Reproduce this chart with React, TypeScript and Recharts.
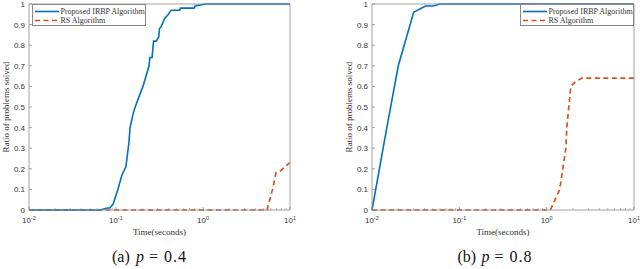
import React from 'react';
import { LineChart, Line, XAxis, YAxis } from 'recharts';

// ---- data (time in seconds, ratio solved) ----
const leftIrbpTime = [0.01, 0.066, 0.079, 0.085, 0.093, 0.105, 0.117, 0.13, 0.141, 0.145, 0.158, 0.166, 0.204, 0.24, 0.245, 0.26, 0.27, 0.29, 0.31, 0.316, 0.33, 0.363, 0.4, 0.43, 0.54, 0.55, 0.79, 0.81, 0.93, 1.07, 10];
const leftIrbpRatio = [0, 0, 0.01, 0.01, 0.03, 0.1, 0.17, 0.21, 0.33, 0.4, 0.47, 0.5, 0.6, 0.7, 0.74, 0.74, 0.82, 0.82, 0.84, 0.88, 0.89, 0.93, 0.95, 0.97, 0.97, 0.98, 0.98, 0.99, 0.995, 1, 1];
const leftRsTime = [0.01, 5.45, 6.3, 6.9, 7.8, 8.7, 10];
const leftRsRatio = [0, 0, 0.1, 0.18, 0.19, 0.21, 0.23];

const rightIrbpTime = [0.01, 0.0145, 0.02, 0.03, 0.041, 0.05, 0.06, 10];
const rightIrbpRatio = [0, 0.38, 0.7, 0.96, 0.99, 0.99, 1, 1];
const rightRsTime = [0.01, 1.1, 1.41, 1.66, 1.7, 1.89, 2.11, 2.51, 10];
const rightRsRatio = [0, 0, 0.1, 0.3, 0.4, 0.6, 0.62, 0.64, 0.64];

const xMajorTicks = [0.01, 0.1, 1, 10];
const xMinorTicks = [0.02, 0.03, 0.04, 0.05, 0.06, 0.07, 0.08, 0.09, 0.2, 0.3, 0.4, 0.5, 0.6, 0.7, 0.8, 0.9, 2, 3, 4, 5, 6, 7, 8, 9];
const yTicks = [0, 0.1, 0.2, 0.3, 0.4, 0.5, 0.6, 0.7, 0.8, 0.9, 1];

const seriesNames = ['Proposed IRBP Algorithm', 'RS Algorithm'];
const captions = [['(a)', 'p', '=', '0.4'], ['(b)', 'p', '=', '0.8']];

const BLUE = '#0072BD';
const ORANGE = '#D95319';
const AXIS = '#8a8a8a';
const TXT = '#333333';
const SERIF = '"Liberation Serif", "Times New Roman", serif';
const SANS = '"Liberation Sans", Arial, sans-serif';

const zip = (t: number[], v: number[]) => t.map((tt, i) => ({ t: tt, v: v[i] }));

const isMajor = (v: number) => Math.abs(Math.log10(v) - Math.round(Math.log10(v))) < 1e-6;

const XTickBottom = (props: any) => {
  const { x, y, payload } = props;
  const v = payload.value;
  const major = isMajor(v);
  const len = major ? 3 : 1.7;
  const e = Math.round(Math.log10(v));
  return (
    <g>
      <line x1={x} x2={x} y1={y} y2={y - len} stroke={AXIS} strokeWidth={0.8} />
      {major && (
        <text x={x} y={y + 13} textAnchor="middle" fontFamily={SANS} fontSize={8} fill={TXT}>
          <tspan>10</tspan>
          <tspan dy={-3.5} fontSize={5.5}>{String(e)}</tspan>
        </text>
      )}
    </g>
  );
};

const XTickTop = (props: any) => {
  const { x, y, payload } = props;
  const len = isMajor(payload.value) ? 3 : 1.7;
  return <line x1={x} x2={x} y1={y} y2={y + len} stroke={AXIS} strokeWidth={0.8} />;
};

const YTickLeft = (props: any) => {
  const { x, y, payload } = props;
  const label = String(Number(payload.value.toFixed(1)));
  return (
    <g>
      <line x1={x} x2={x + 3} y1={y} y2={y} stroke={AXIS} strokeWidth={0.8} />
      <text x={x - 4} y={y + 3} textAnchor="end" fontFamily={SANS} fontSize={8} fill={TXT}>
        {label}
      </text>
    </g>
  );
};

const YTickRight = (props: any) => {
  const { x, y } = props;
  return <line x1={x} x2={x - 3} y1={y} y2={y} stroke={AXIS} strokeWidth={0.8} />;
};

type PanelProps = {
  irbp: { t: number; v: number }[];
  rs: { t: number; v: number }[];
  plotLeft: number;
  plotRight: number;
  yLabelX: number;
  legendLeft: number;
  caption: string[];
  captionX: number;
};

const Legend2 = ({ left }: { left: number }) => (
  <div
    style={{
      position: 'absolute',
      left,
      top: 4,
      width: 114,
      height: 22,
      border: `0.8px solid ${AXIS}`,
      background: '#fff',
      boxSizing: 'border-box',
    }}
  >
    <svg width={114} height={22} style={{ position: 'absolute', left: 0, top: 0 }}>
      <line x1={2} x2={26} y1={6.5} y2={6.5} stroke={BLUE} strokeWidth={1.6} />
      <line x1={2} x2={26} y1={15.5} y2={15.5} stroke={ORANGE} strokeWidth={1.6} strokeDasharray="5 3.5" />
      <text x={27.5} y={9.3} fontFamily={SERIF} fontSize={8} fill={TXT}>{seriesNames[0]}</text>
      <text x={27.5} y={18.3} fontFamily={SERIF} fontSize={8} fill={TXT}>{seriesNames[1]}</text>
    </svg>
  </div>
);

const TOP = 4;
const BOTTOM = 210;
const H = 269;

const Panel = ({ irbp, rs, plotLeft, plotRight, yLabelX, legendLeft, caption, captionX }: PanelProps) => {
  const plotCenter = (plotLeft + plotRight) / 2;
  const rightW = 1;
  const topH = 1;
  const margin = { top: TOP - topH, left: 0, right: 320 - plotRight - rightW, bottom: 0 };
  return (
    <div style={{ position: 'absolute', top: 0, width: 320, height: H }}>
      <LineChart width={320} height={H} margin={margin}>
        <XAxis
          xAxisId={0}
          dataKey="t"
          type="number"
          scale="log"
          domain={[0.01, 10]}
          ticks={[...xMajorTicks, ...xMinorTicks]}
          interval={0}
          height={H - BOTTOM}
          tickSize={0}
          tickMargin={0}
          tickLine={false}
          axisLine={{ stroke: AXIS, strokeWidth: 0.8 }}
          tick={<XTickBottom />}
          label={{
            content: () => (
              <text x={plotCenter} y={235} textAnchor="middle" fontFamily={SERIF} fontSize={9} fill={TXT}>
                Time(seconds)
              </text>
            ),
          }}
        />
        <XAxis
          xAxisId="top"
          orientation="top"
          dataKey="t"
          type="number"
          scale="log"
          domain={[0.01, 10]}
          ticks={[...xMajorTicks, ...xMinorTicks]}
          interval={0}
          height={topH}
          tickSize={0}
          tickMargin={0}
          tickLine={false}
          axisLine={{ stroke: AXIS, strokeWidth: 0.8 }}
          tick={<XTickTop />}
        />
        <YAxis
          yAxisId={0}
          type="number"
          domain={[0, 1]}
          ticks={yTicks}
          interval={0}
          width={plotLeft}
          tickSize={0}
          tickMargin={0}
          tickLine={false}
          axisLine={{ stroke: AXIS, strokeWidth: 0.8 }}
          tick={<YTickLeft />}
          label={{
            content: () => (
              <text
                x={yLabelX}
                y={107}
                transform={`rotate(-90 ${yLabelX} 107)`}
                textAnchor="middle"
                dominantBaseline="central"
                fontFamily={SERIF}
                fontSize={9}
                fill={TXT}
              >
                Ratio of problems solved
              </text>
            ),
          }}
        />
        <YAxis
          yAxisId="r"
          orientation="right"
          type="number"
          domain={[0, 1]}
          ticks={yTicks}
          interval={0}
          width={rightW}
          tickSize={0}
          tickMargin={0}
          tickLine={false}
          axisLine={{ stroke: AXIS, strokeWidth: 0.8 }}
          tick={<YTickRight />}
        />
        <Line
          data={rs}
          dataKey="v"
          xAxisId={0}
          yAxisId={0}
          type="linear"
          stroke={ORANGE}
          strokeWidth={1.7}
          strokeDasharray="5 3.5"
          dot={false}
          activeDot={false}
          isAnimationActive={false}
          name={seriesNames[1]}
        />
        <Line
          data={irbp}
          dataKey="v"
          xAxisId={0}
          yAxisId={0}
          type="linear"
          stroke={BLUE}
          strokeWidth={1.6}
          dot={false}
          activeDot={false}
          isAnimationActive={false}
          name={seriesNames[0]}
        />
      </LineChart>
      <Legend2 left={legendLeft} />
      <svg width={320} height={H} style={{ position: 'absolute', left: 0, top: 0, pointerEvents: 'none' }}>
        <text y={262} fontFamily={SERIF} fontSize={16} fill="#111">
          <tspan x={captionX}>{caption[0]}</tspan>
          <tspan x={captionX + 24} fontStyle="italic">{caption[1]}</tspan>
          <tspan x={captionX + 37}>{caption[2]}</tspan>
          <tspan x={captionX + 52} letterSpacing={1}>{caption[3]}</tspan>
        </text>
      </svg>
    </div>
  );
};

export default function App() {
  return (
    <div style={{ position: 'absolute', left: 0, top: 0, width: 640, height: H, background: '#fff', overflow: 'hidden' }}>
      <div style={{ position: 'absolute', left: 0, top: 0 }}>
        <Panel
          irbp={zip(leftIrbpTime, leftIrbpRatio)}
          rs={zip(leftRsTime, leftRsRatio)}
          plotLeft={29}
          plotRight={290}
          yLabelX={6}
          legendLeft={32}
          caption={captions[0]}
          captionX={112}
        />
      </div>
      <div style={{ position: 'absolute', left: 320, top: 0 }}>
        <Panel
          irbp={zip(rightIrbpTime, rightIrbpRatio)}
          rs={zip(rightRsTime, rightRsRatio)}
          plotLeft={52}
          plotRight={314}
          yLabelX={29}
          legendLeft={200}
          caption={captions[1]}
          captionX={137.5}
        />
      </div>
    </div>
  );
}
